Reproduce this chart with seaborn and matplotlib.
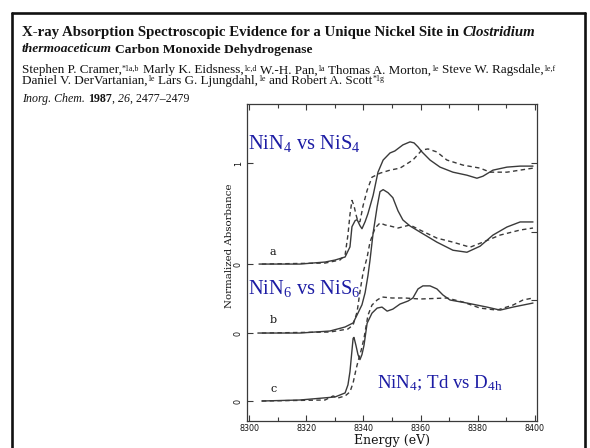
import matplotlib
matplotlib.use("Agg")
import matplotlib.pyplot as plt
import seaborn as sns
import numpy as np
import pandas as pd
from matplotlib.lines import Line2D
from matplotlib.ticker import MultipleLocator

# ---------------- data (energy in eV, normalized absorbance) ----------------
a_solid_E = [8303.5, 8317.8, 8326.6, 8330.1, 8333.6, 8335.3, 8336.0, 8337.1, 8337.8, 8338.8,
             8339.5, 8340.6, 8341.6, 8343.4, 8345.1, 8346.9, 8349.3, 8351.0, 8353.8, 8356.3,
             8357.7, 8359.1, 8360.5, 8363.3, 8366.8, 8371.3, 8376.2, 8379.7, 8381.8, 8385.3,
             8390.2, 8394.8, 8399.3]
a_solid_A = [0.00, 0.00, 0.02, 0.04, 0.07, 0.17, 0.37, 0.43, 0.44, 0.38,
             0.35, 0.42, 0.50, 0.68, 0.91, 1.03, 1.10, 1.12, 1.18, 1.21,
             1.20, 1.16, 1.11, 1.03, 0.96, 0.91, 0.88, 0.85, 0.87, 0.93,
             0.96, 0.97, 0.97]
a_dash_E = [8304.5, 8326.6, 8331.8, 8333.6, 8334.6, 8335.3, 8336.0, 8336.7, 8337.4, 8338.1,
            8338.8, 8339.9, 8341.3, 8343.0, 8345.8, 8349.3, 8352.8, 8357.3, 8360.5, 8362.6,
            8365.7, 8369.2, 8374.8, 8380.8, 8384.3, 8390.2, 8399.3]
a_dash_A = [0.00, 0.01, 0.04, 0.09, 0.29, 0.49, 0.63, 0.58, 0.49, 0.42,
            0.42, 0.58, 0.73, 0.86, 0.90, 0.93, 0.95, 1.03, 1.13, 1.14,
            1.11, 1.03, 0.98, 0.95, 0.91, 0.91, 0.95]

b_solid_E = [8303.1, 8317.8, 8328.3, 8333.6, 8336.4, 8337.8, 8339.5, 8340.6, 8341.6, 8342.3,
             8343.4, 8344.8, 8345.8, 8346.9, 8348.6, 8350.3, 8352.1, 8353.8, 8356.3, 8359.8,
             8365.7, 8371.3, 8376.2, 8380.8, 8385.3, 8390.2, 8394.8, 8399.3]
b_solid_A = [0.00, 0.00, 0.02, 0.06, 0.10, 0.18, 0.28, 0.40, 0.57, 0.72,
             0.99, 1.25, 1.40, 1.42, 1.39, 1.34, 1.21, 1.12, 1.06, 1.00,
             0.90, 0.82, 0.80, 0.86, 0.97, 1.05, 1.10, 1.10]
b_dash_E = [8304.5, 8328.3, 8334.6, 8336.4, 8337.8, 8338.8, 8339.9, 8341.3, 8342.3, 8344.1,
            8345.8, 8347.6, 8349.3, 8352.1, 8356.3, 8359.8, 8365.7, 8371.3, 8377.3, 8381.8,
            8387.8, 8394.8, 8399.3]
b_dash_A = [0.00, 0.01, 0.04, 0.08, 0.21, 0.41, 0.60, 0.75, 0.90, 1.04,
            1.09, 1.07, 1.06, 1.04, 1.07, 1.02, 0.94, 0.90, 0.85, 0.90,
            0.97, 1.02, 1.04]

c_solid_E = [8304.5, 8317.8, 8330.1, 8333.6, 8334.6, 8335.3, 8336.0, 8336.4, 8336.7, 8337.4,
             8338.1, 8338.8, 8339.5, 8340.2, 8341.3, 8343.0, 8344.8, 8346.5, 8348.3, 8350.3,
             8352.8, 8355.6, 8357.3, 8359.1, 8360.8, 8363.3, 8365.7, 8367.8, 8370.3, 8376.2,
             8383.2, 8387.8, 8392.3, 8399.3]
c_solid_A = [0.00, 0.01, 0.04, 0.08, 0.16, 0.29, 0.50, 0.62, 0.63, 0.55,
             0.46, 0.41, 0.46, 0.55, 0.77, 0.87, 0.92, 0.93, 0.89, 0.91,
             0.96, 0.99, 1.02, 1.11, 1.14, 1.14, 1.11, 1.05, 1.00, 0.97,
             0.93, 0.90, 0.93, 0.97]
c_dash_E = [8304.5, 8326.6, 8329.4, 8331.1, 8333.6, 8335.3, 8336.4, 8337.4, 8338.1, 8339.2,
            8340.2, 8341.6, 8343.0, 8344.8, 8346.5, 8350.0, 8354.5, 8359.8, 8369.2, 8374.8,
            8380.8, 8386.7, 8392.3, 8395.8, 8399.3]
c_dash_A = [0.00, 0.01, 0.05, 0.03, 0.05, 0.09, 0.18, 0.31, 0.39, 0.50,
            0.62, 0.85, 0.95, 1.00, 1.03, 1.02, 1.02, 1.01, 1.02, 0.98,
            0.92, 0.90, 0.95, 1.00, 1.02]

x_ticks = [8300, 8320, 8340, 8360, 8380, 8400]
x_tick_labels = ["8300", "8320", "8340", "8360", "8380", "8400"]
y_tick_labels = ["0", "0", "0", "1"]
curve_labels = ["a", "b", "c"]
panel_titles = [r"NiN$_4$ vs NiS$_4$", r"NiN$_6$ vs NiS$_6$", r"NiN$_4$; Td vs D$_{4h}$"]

# ---------------- layout / style ----------------
W, H = 590, 448
OFF = {"a": 1.356, "b": 0.673, "c": 0.0}
LINE = "#3a3a3a"
BLUE = "#1c1ca4"
INK = "#141414"

sns.set_style("ticks")
plt.rcParams['font.family'] = ['Liberation Serif', 'DejaVu Serif']
plt.rcParams['mathtext.fontset'] = 'custom'
plt.rcParams['mathtext.rm'] = 'Liberation Serif'
plt.rcParams['mathtext.it'] = 'Liberation Serif:italic'
plt.rcParams['mathtext.default'] = 'regular'

fig = plt.figure(figsize=(W / 100, H / 100), dpi=100)
fig.patch.set_facecolor("white")


def fx(x):
    return x / W


def fy(y):
    return 1 - y / H


# outer slide frame (left, top, right edges; runs off the bottom)
for xs, ys in [([11.5, 11.5], [448, 13]), ([11.5, 585], [13, 13]), ([585, 585], [13, 448])]:
    fig.add_artist(Line2D([fx(v) for v in xs], [fy(v) for v in ys],
                          transform=fig.transFigure, lw=1.9, color="#111111"))

ax = fig.add_axes([fx(247), fy(421), fx(537) - fx(247), fy(104) - fy(421)])
ax.set_facecolor("white")

series = [("a", "solid", a_solid_E, a_solid_A), ("a", "dash", a_dash_E, a_dash_A),
          ("b", "solid", b_solid_E, b_solid_A), ("b", "dash", b_dash_E, b_dash_A),
          ("c", "solid", c_solid_E, c_solid_A), ("c", "dash", c_dash_E, c_dash_A)]
for panel, st, E, A in series:
    df = pd.DataFrame({"E": E, "A": np.asarray(A) + OFF[panel]})
    ls = "-" if st == "solid" else (0, (3.2, 2.4))
    sns.lineplot(data=df, x="E", y="A", ax=ax, sort=False, estimator=None,
                 color=LINE, lw=1.0, linestyle=ls)

ax.set_xlim(8299.3, 8400.7)
ax.set_ylim(-0.198, 2.941)
ax.set_xlabel("")
ax.set_ylabel("")
ax.set_xticks(x_ticks)
ax.set_xticklabels(x_tick_labels, family="DejaVu Sans", fontsize=5.8, color=INK)
ax.xaxis.set_minor_locator(MultipleLocator(10))
ax.set_yticks([OFF["c"], OFF["b"], OFF["a"], OFF["a"] + 1])
ax.set_yticklabels(y_tick_labels, family="DejaVu Sans", fontsize=5.8, rotation=90,
                   va="center", color=INK)
ax.tick_params(axis="both", which="both", direction="in", top=True, color=LINE,
               width=0.8)
ax.tick_params(axis="x", which="major", length=4, pad=2.0)
ax.tick_params(axis="x", which="minor", length=3)
ax.tick_params(axis="y", which="major", length=4, pad=3)
for s in ax.spines.values():
    s.set_linewidth(0.9)
    s.set_color(LINE)

ax2 = ax.twinx()
ax2.set_ylim(ax.get_ylim())
ax2.set_yticks([OFF["c"] + 1, OFF["b"] + 1, OFF["a"] + 1])
ax2.set_yticklabels([])
ax2.tick_params(axis="y", direction="in", length=4, width=0.8, color=LINE)
for s in ax2.spines.values():
    s.set_visible(False)

# axis labels
fig.text(fx(392), fy(440), "Energy (eV)", family="DejaVu Serif", fontsize=9.0,
         ha="center", va="center", color=INK)
fig.text(fx(230), fy(246), "Normalized Absorbance", family="DejaVu Serif", fontsize=7.4,
         rotation=90, ha="center", va="center", color=INK)

# curve letters
for lab, (x, y) in zip(curve_labels, [(273, 252), (273, 320), (274, 389)]):
    fig.text(fx(x), fy(y), lab, family="DejaVu Serif", fontsize=8, ha="center",
             va="center", color=INK)

# blue annotations
for t, (x, y), fs in zip(panel_titles, [(248, 149), (248, 294), (377, 388)],
                         [14.8, 14.8, 13.6]):
    fig.text(fx(x), fy(y), t, color=BLUE, fontsize=fs, ha="left", va="baseline",
             family="Liberation Serif")

# ---------------- header (paper citation) ----------------
renderer = fig.canvas.get_renderer()
_cache = {}


def measure(txt, size, weight, style):
    key = (txt, round(size, 4), weight, style)
    if key not in _cache:
        t = fig.text(0, 0, txt, fontsize=size, fontweight=weight, fontstyle=style,
                     family="Liberation Serif")
        _cache[key] = t.get_window_extent(renderer=renderer).width
        t.remove()
    return _cache[key]


def adv(txt, size, weight, style):
    # pen advance of txt (spaces included), padding cancelled by a sentinel glyph
    if not txt:
        return 0.0
    return measure(txt + "x", size, weight, style) - measure("x", size, weight, style)


def build(pieces, x0, yb, sz, draw):
    x = x0
    for txt, kw in pieces:
        s = sz * kw.get("scale", 1.0)
        wt = kw.get("weight", "normal")
        stl = kw.get("style", "normal")
        rise = kw.get("rise", 0.0) * s * 100 / 72
        core = txt.lstrip(" ")
        lead = txt[:len(txt) - len(core)]
        if draw and core.strip():
            fig.text(fx(x + adv(lead, s, wt, stl)), fy(yb - rise), core.rstrip(" "),
                     fontsize=s, fontweight=wt, fontstyle=stl, family="Liberation Serif",
                     ha="left", va="baseline", color=INK)
        x += adv(txt, s, wt, stl)
    return x - x0


def fit_size(pieces, size, target):
    return size * target / build(pieces, 0, 0, size, False)


B = {"weight": "bold"}
BI = {"weight": "bold", "style": "italic"}
N = {}
I = {"style": "italic"}
SUP = {"scale": 0.6, "rise": 0.33}

title1 = [("X-ray Absorption Spectroscopic Evidence for a Unique Nickel Site in ", B),
          ("Clostridium", BI)]
title2 = [("thermoaceticum", BI), (" Carbon Monoxide Dehydrogenase", B)]
auth1 = [("Stephen P. Cramer,", N), ("*1a,b", SUP), (" Marly K. Eidsness,", N),
         ("1c,d", SUP), (" W.-H. Pan,", N), ("1a", SUP), (" Thomas A. Morton,", N),
         ("1e", SUP), (" Steve W. Ragsdale,", N), ("1e,f", SUP)]
auth2 = [("Daniel V. DerVartanian,", N), ("1e", SUP), (" Lars G. Ljungdahl,", N),
         ("1e", SUP), (" and Robert A. Scott", N), ("*1g", SUP)]
cite = [("Inorg. Chem.", I), (" 1987", B), (", ", N), ("26", I), (", 2477–2479", N)]

t1 = fit_size(title1, 10.0, 514)
build(title1, 22, 36, t1, True)
t2 = min(t1, fit_size(title2, 10.0, 290))
build(title2, 22, 52.5, t2, True)
asz = fit_size(auth1, 7.0, 540)
build(auth1, 22, 73.5, asz, True)
build(auth2, 22, 84, asz, True)
csz = fit_size(cite, 9.5, 168)
build(cite, 22, 102, csz, True)

fig.savefig("out.png", dpi=100, facecolor="white")
